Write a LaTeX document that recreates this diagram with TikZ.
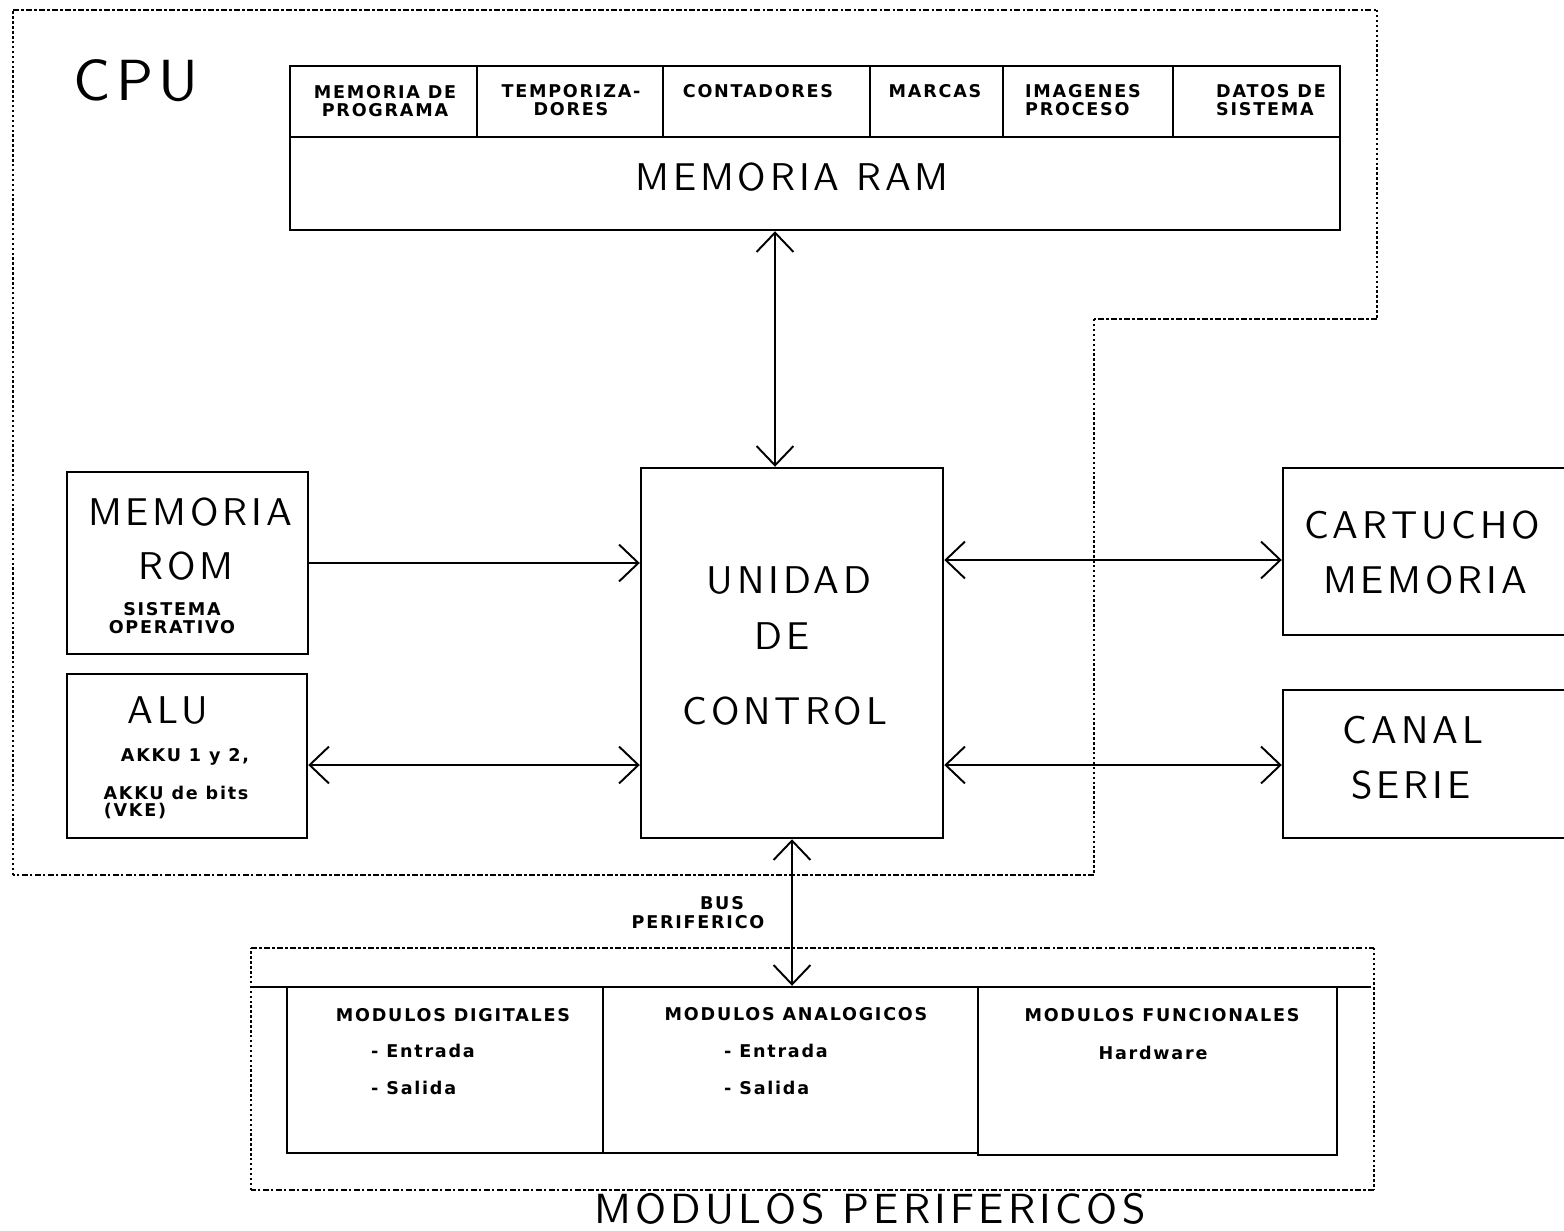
\documentclass[tikz,border=0pt]{standalone}
\usepackage{fontspec}
\usetikzlibrary{arrows.meta,fit,calc}

\newfontfamily\plotfont[LetterSpace=10]{DejaVu Sans}
\newfontfamily\thinfont[LetterSpace=10]{lmsans10-regular.otf}
\newcommand\smalltxt{\plotfont\bfseries\fontsize{10}{10.2}\selectfont}
\newcommand\bigtxt{\thinfont\fontsize{22}{24}\selectfont}
\newcommand\hugetxt{\thinfont\fontsize{33}{36}\selectfont}

\begin{document}
\begin{tikzpicture}[x=0.2mm,y=-0.2mm,
    box/.style={draw,line width=1.4pt,inner sep=0pt},
    link/.style={line width=1.1pt},
    frameh/.style={line width=1.5pt,dash pattern=on 3.4pt off 1.3pt on 1.4pt off 1.3pt},
    framev/.style={line width=1.6pt,dash pattern=on 1.4pt off 1.4pt},
    >={Straight Barb[length=11pt,width=21pt]}]
    \useasboundingbox (0,0) rectangle (1564,1230);
    \clip (0,0) rectangle (1564,1230);

    % CPU
    \draw[frameh] (13,10) -- (1377,10);
    \draw[framev] (1377,10) -- (1377,319);
    \draw[frameh] (1377,319) -- (1094,319);
    \draw[framev] (1094,319) -- (1094,875);
    \draw[frameh] (1094,875) -- (13,875);
    \draw[framev] (13,875) -- (13,10);
    \node[font=\hugetxt] (cpu) at (136,81) {CPU};

    % memoria RAM
    \node[box,fit={(290,66) (1340,230)}] (ram) {};
    \draw[box] (290,137) -- (1340,137);
    \foreach \x in {477,663,870,1003,1173}
        \draw[box] (\x,66) -- (\x,137);
    \node[font=\smalltxt,align=center] (prog) at (385,101) {MEMORIA DE\\PROGRAMA};
    \node[font=\smalltxt,align=center] (temp) at (571,100) {TEMPORIZA-\\DORES};
    \node[font=\smalltxt] (cont) at (758,91) {CONTADORES};
    \node[font=\smalltxt] (marc) at (935,91) {MARCAS};
    \node[font=\smalltxt,align=left] (imag) at (1083,100) {IMAGENES\\PROCESO};
    \node[font=\smalltxt,align=left] (dsis) at (1271,100) {DATOS DE\\SISTEMA};
    \node[font=\bigtxt] (ramtxt) at (792,177) {MEMORIA RAM};

    % unidad de control
    \node[box,fit={(641,468) (943,838)}] (uc) {};
    \node[font=\bigtxt] (uc1) at (789,581) {UNIDAD};
    \node[font=\bigtxt] (uc2) at (782,636) {DE};
    \node[font=\bigtxt] (uc3) at (785,711) {CONTROL};

    % ROM y ALU
    \node[box,fit={(67,472) (308,654)}] (rom) {};
    \node[font=\bigtxt] (rom1) at (190,512) {MEMORIA};
    \node[font=\bigtxt] (rom2) at (186,566) {ROM};
    \node[font=\smalltxt,align=center] (rom3) at (172,618) {SISTEMA\\OPERATIVO};
    \node[box,fit={(67,674) (307,838)}] (alu) {};
    \node[font=\bigtxt] (alu1) at (168,711) {ALU};
    \node[font=\smalltxt] (alu2) at (185,757) {AKKU 1 y 2,};
    \node[font=\smalltxt] (alu3) at (176,793) {AKKU de bits};
    \node[font=\smalltxt] (alu4) at (135,811) {(VKE)};

    % cartucho y canal serie
    \node[box,fit={(1283,468) (1600,635)}] (cart) {};
    \node[font=\bigtxt] (cart1) at (1422,525) {CARTUCHO};
    \node[font=\bigtxt] (cart2) at (1425,580) {MEMORIA};
    \node[box,fit={(1283,690) (1600,838)}] (canal) {};
    \node[font=\bigtxt] (canal1) at (1413,730) {CANAL};
    \node[font=\bigtxt] (canal2) at (1411,785) {SERIE};

    % modulos perifericos
    \draw[frameh] (251,948) -- (1374,948);
    \draw[framev] (1374,948) -- (1374,1190);
    \draw[frameh] (1374,1190) -- (251,1190);
    \draw[framev] (251,1190) -- (251,948);
    \draw[box] (251,987) -- (1371,987);
    \node[box,fit={(287,987) (603,1153)}] (dig) {};
    \node[box,fit={(603,987) (978,1153)}] (ana) {};
    \node[box,fit={(978,987) (1337,1155)}] (fun) {};
    \node[font=\smalltxt] (dig1) at (453,1015) {MODULOS DIGITALES};
    \node[font=\smalltxt,anchor=west] (dig2) at (365,1051) {- Entrada};
    \node[font=\smalltxt,anchor=west] (dig3) at (365,1088) {- Salida};
    \node[font=\smalltxt] (ana1) at (796,1014) {MODULOS ANALOGICOS};
    \node[font=\smalltxt,anchor=west] (ana2) at (718,1051) {- Entrada};
    \node[font=\smalltxt,anchor=west] (ana3) at (718,1088) {- Salida};
    \node[font=\smalltxt] (fun1) at (1162,1015) {MODULOS FUNCIONALES};
    \node[font=\smalltxt] (fun2) at (1153,1053) {Hardware};
    \node[font=\thinfont\fontsize{24}{26}\selectfont] (perif) at (870,1209) {MODULOS PERIFERICOS};
    \node[font=\smalltxt] (bus1) at (722,903) {BUS};
    \node[font=\smalltxt] (bus2) at (698,922) {PERIFERICO};

    % conexiones
    \draw[link,<->] ([xshift=-8mm]ram.south) coordinate (r) -- (r |- uc.north);
    \draw[link,->] (rom.east) -- (rom.east -| uc.west);
    \draw[link,<->] ([yshift=-1.8mm]alu.east) coordinate (a) -- (a -| uc.west);
    \draw[link,<->] (uc.east |- cart.west) ++(0,-1.7mm) coordinate (c) -- (c -| cart.west);
    \draw[link,<->] (a -| uc.east) -- (a -| canal.west);
    \draw[link,<->] (uc.south) -- (uc.south |- ana.north);
\end{tikzpicture}
\end{document}
